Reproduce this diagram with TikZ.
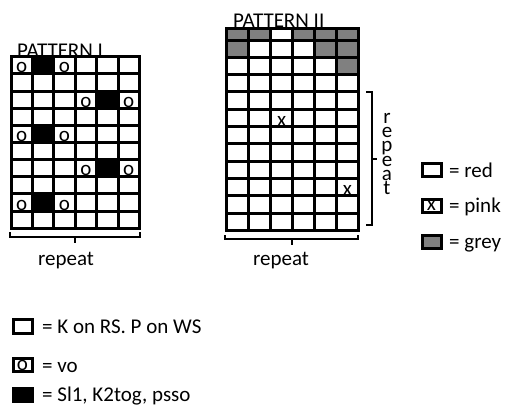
\documentclass[tikz,border=0pt]{standalone}
\usepackage{fontspec}
\setmainfont{Carlito}
\usetikzlibrary{positioning}
\definecolor{stgrey}{RGB}{128,128,128}

\begin{document}
\begin{tikzpicture}[x=1pt, y=-1pt,
  every node/.style={font=\fontsize{21}{14.3}\selectfont, inner sep=0pt},
  gridline/.style={line width=3pt, line cap=rect},
  bracket/.style={line width=2pt},
  stitch/.style={anchor=base},
  keybox/.style={draw, line width=3pt, minimum width=19pt, minimum height=13pt},
  keytext/.style={anchor=base west}]
\useasboundingbox (0,0) rectangle (507,405);
% pattern I
\node[anchor=base west] (patone) at (17,57) {PATTERN I};
\foreach \r in {0,4,8} {
  \fill (32.4,56.7+\r*17.15) rectangle ++(21.4,17.15);
  \node[stitch] (pa\r) at (21.7,72.8+\r*17.15) {o};
  \node[stitch] (pb\r) at (64.5,72.8+\r*17.15) {o};
}
\foreach \r in {2,6} {
  \fill (96.6,56.7+\r*17.15) rectangle ++(21.4,17.15);
  \node[stitch] (pc\r) at (85.9,72.8+\r*17.15) {o};
  \node[stitch] (pd\r) at (128.7,72.8+\r*17.15) {o};
}
\foreach \i in {0,...,6} \draw[gridline] (11+\i*21.4,56.7) -- (11+\i*21.4,228.2);
\foreach \j in {0,...,10} \draw[gridline] (11,56.7+\j*17.15) -- (139.4,56.7+\j*17.15);
\draw[bracket] (10,232) -- (10,237) -- (140,237) -- (140,232);
\draw[bracket] (75,237) -- (75,243);
\node[anchor=base] (repone) at (66,265) {repeat};
% pattern II
\node[anchor=base west] (pattwo) at (233,27) {PATTERN II};
\foreach \c in {0,1,3,4,5} \fill[stgrey] (226.7+\c*21.95,28) rectangle ++(21.95,12);
\foreach \c in {0,4,5} \fill[stgrey] (226.7+\c*21.95,40) rectangle ++(21.95,17.3);
\fill[stgrey] (226.7+5*21.95,57.3) rectangle ++(21.95,17.3);
\foreach \i in {0,...,6} \draw[gridline] (226.7+\i*21.95,28) -- (226.7+\i*21.95,230.3);
\draw[gridline] (226.7,28) -- (358.4,28);
\foreach \j in {0,...,11} \draw[gridline] (226.7,40+\j*17.3) -- (358.4,40+\j*17.3);
\node[stitch] (xa) at (281.6,126) {x};
\node[stitch] (xb) at (347.4,195.2) {x};
\draw[bracket] (225,235) -- (225,239) -- (358,239) -- (358,235);
\draw[bracket] (292,239) -- (292,245);
\node[anchor=base] (reptwo) at (281,265) {repeat};
\draw[bracket] (366,92) -- (372,92) -- (372,225) -- (366,225);
\draw[bracket] (372,159) -- (377,159);
\node[align=center] (repvert) at (387,154) {r\\e\\p\\e\\a\\t};
% colour key
\node[keybox] (keyred) at (431.5,170) {};
\node[keytext] (txtred) at (449,177.5) {= red};
\node[keybox] (keypink) at (431.5,205.5) {x};
\node[keytext] (txtpink) at (449,212.5) {= pink};
\node[keybox, fill=stgrey] (keygrey) at (431.5,242) {};
\node[keytext] (txtgrey) at (449,248.5) {= grey};
% stitch key
\node[keybox, minimum height=13.5pt] (keyk) at (22.5,326.5) {};
\node[keytext] (txtk) at (42,333) {= K on RS. P on WS};
\node[keybox, minimum height=13.5pt] (keyo) at (22.5,365) {o};
\node[keytext] (txto) at (42,372) {= vo};
\node[keybox, minimum height=13.5pt, fill=black] (keysl) at (22.5,395) {};
\node[keytext] (txtsl) at (42,401) {= Sl1, K2tog, psso};
\end{tikzpicture}
\end{document}
